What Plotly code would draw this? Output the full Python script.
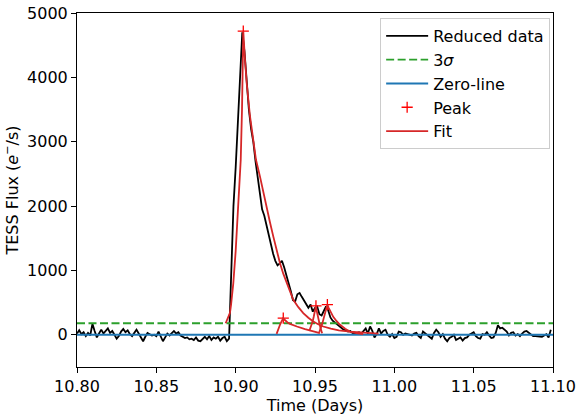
import plotly.graph_objects as go

# ---------------- data ----------------
T0 = 10.80                 # first cadence time (days)
CADENCE = 2.0 / 1440.0     # TESS 2-minute cadence (days)

FLUX = [
    20, 70, 10, 40, -20, 30, -10, 170, 60, -40,
    20, 80, 20, 60, 100, 30, 60, 0, -60, -20,
    50, 90, 40, 70, 10, -20, 40, 80, 20, -50,
    -100, -30, 30, 10, -10, 0, -20, 50, -30, -100,
    -40, 20, -10, 30, 60, 20, 40, -10, -30, -50,
    -40, -70, -60, -80, -40, -90, -100, -60, -30, -70,
    -20, -80, -40, -60, -30, -90, -50, -30, -100, -60,
    1100, 2000, 2600, 3300, 4200, 4700, 4400, 3900, 3500, 3200,
    3000, 2700, 2450, 2150, 1950, 1850, 1700, 1550, 1380, 1260,
    1150, 1080, 1110, 1150, 1050, 930, 830, 680, 540, 520,
    630, 650, 590, 530, 460, 420, 470, 360, 420, 440,
    320, 300, 370, 440, 380, 270, 220, 190, 170, 130,
    100, 80, 70, 50, 60, 30, 20, 30, 40, 20,
    60, 100, 20, 130, 60, -40, 10, 100, 20, 60,
    80, 0, -30, 10, -50, -30, 50, 40, 0, 20,
    10, 0, -10, 20, 30, -20, -50, 50, 20, 0,
    -40, -60, 30, 80, 40, -30, 10, -60, -100, -50,
    -30, 0, -80, -60, -40, -90, -50, -40, 0, 20,
    40, -20, -50, -60, 10, 0, 40, -10, -50, -40,
    30, 150, 100, 110, 80, 50, -10, 30, 40, -10,
    10, -20, 20, 50, 60, 30, 10, -20, -20, -20,
    -20, -30, -10, 10, -40, 80,
]
TIME = [T0 + CADENCE * i for i in range(len(FLUX))]

SIGMA3 = 180
XLIM = [10.80, 11.10]
YLIM = [-500, 5000]

PEAK_T = [10.9048, 10.9300, 10.9506, 10.9578]
PEAK_F = [4717, 260, 450, 470]

FIT1_T = [10.8937, 10.8955, 10.8964, 10.8971, 10.8985, 10.9000, 10.9015, 10.9032,
          10.9040, 10.9048, 10.9058, 10.9070, 10.9090, 10.9111, 10.9128, 10.9153,
          10.9175, 10.9196, 10.9215, 10.9237, 10.9258, 10.9279, 10.9300, 10.9322,
          10.9342, 10.9363, 10.9395, 10.9426, 10.9458, 10.9489, 10.9520, 10.9552,
          10.9600, 10.9650, 10.9720, 10.9815, 10.9900]
FIT1_F = [180, 280, 340, 470, 800, 1300, 1950, 2720,
          3500, 4717, 4300, 3900, 3400, 3032, 2720, 2462,
          2200, 1995, 1760, 1529, 1310, 1115, 950, 804,
          670, 544, 430, 337, 265, 207, 165, 129,
          95, 70, 51, 31, 20]

FIT2_T = [10.9258, 10.9265, 10.9272, 10.9280, 10.9288, 10.9295, 10.9300, 10.9310,
          10.9320, 10.9330, 10.9342, 10.9365, 10.9386, 10.9437, 10.9489, 10.9531]
FIT2_F = [15, 70, 115, 160, 200, 235, 260, 230, 205, 186, 171, 147, 129, 89, 51, 26]

FIT3_T = [10.9464, 10.9471, 10.9478, 10.9485, 10.9492, 10.9499, 10.9506, 10.9511,
          10.9517, 10.9525, 10.9535, 10.9545]
FIT3_F = [60, 100, 150, 205, 280, 360, 450, 370, 290, 200, 100, 25]

FIT4_T = [10.9527, 10.9534, 10.9540, 10.9547, 10.9553, 10.9560, 10.9566, 10.9572,
          10.9578, 10.9586, 10.9595, 10.9605, 10.9615, 10.9635, 10.9658, 10.9690,
          10.9720, 10.9760, 10.9804]
FIT4_F = [40, 85, 130, 185, 240, 300, 360, 415, 470, 420, 370, 320, 280, 215, 156, 95,
          51, 28, 12]

X_TICKS = [10.80, 10.85, 10.90, 10.95, 11.00, 11.05, 11.10]
Y_TICKS = [0, 1000, 2000, 3000, 4000, 5000]

# ---------------- figure ----------------
FONT = "DejaVu Sans"
FS = 16
fig = go.Figure()

fig.add_trace(go.Scatter(x=TIME, y=FLUX, mode="lines", name="Reduced data",
                         line=dict(color="black", width=1.8)))
fig.add_trace(go.Scatter(x=XLIM, y=[SIGMA3, SIGMA3], mode="lines", name="3<i>σ</i>",
                         line=dict(color="#2ca02c", width=1.8, dash="8px,3.5px")))
fig.add_trace(go.Scatter(x=XLIM, y=[0, 0], mode="lines", name="Zero-line",
                         line=dict(color="#1f77b4", width=2)))
fig.add_trace(go.Scatter(x=PEAK_T, y=PEAK_F, mode="markers", name="Peak",
                         marker=dict(symbol="cross-thin", size=8, color="red",
                                     line=dict(color="red", width=1.3))))
for k, (ft, ff) in enumerate([(FIT1_T, FIT1_F), (FIT2_T, FIT2_F),
                              (FIT3_T, FIT3_F), (FIT4_T, FIT4_F)]):
    fig.add_trace(go.Scatter(x=ft, y=ff, mode="lines", name="Fit",
                             legendgroup="fit", showlegend=(k == 0),
                             line=dict(color="#d62728", width=1.8)))

axis_common = dict(showline=True, linecolor="black", linewidth=1, mirror=True,
                   ticks="outside", ticklen=5, tickwidth=1, tickcolor="black",
                   showgrid=False, zeroline=False, automargin=False,
                   tickfont=dict(family=FONT, size=FS, color="black"))

fig.update_layout(
    width=577, height=417,
    margin=dict(l=77, r=24, t=13, b=50, autoexpand=False),
    paper_bgcolor="white", plot_bgcolor="white",
    font=dict(family=FONT, size=FS, color="black"),
    xaxis=dict(range=XLIM, tickvals=X_TICKS, tickformat=".2f",
               title=dict(text="Time (Days)", font=dict(family=FONT, size=FS), standoff=2),
               **axis_common),
    yaxis=dict(range=YLIM, tickvals=Y_TICKS,
               title=dict(text="TESS Flux (<i>e</i><sup>−</sup>/s)",
                          font=dict(family=FONT, size=FS), standoff=4),
               **axis_common),
    legend=dict(x=0.994, y=0.986, xanchor="right", yanchor="top",
                bgcolor="rgba(255,255,255,0.8)", bordercolor="#cccccc", borderwidth=1,
                font=dict(family=FONT, size=FS, color="black"),
                itemwidth=42, tracegroupgap=0),
    showlegend=True,
)

fig.write_html("out.html")
